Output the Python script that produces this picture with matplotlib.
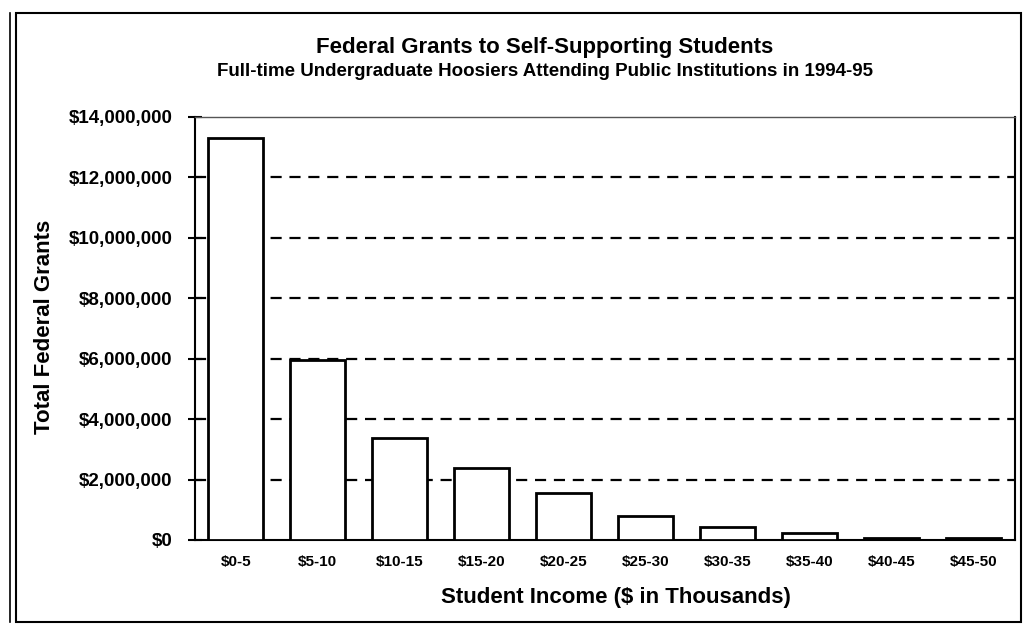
import matplotlib
matplotlib.use("Agg")
import matplotlib.pyplot as plt
from matplotlib.patches import Rectangle
from matplotlib.lines import Line2D
from matplotlib.ticker import FuncFormatter, MultipleLocator

plt.rcParams['font.family'] = ['Liberation Sans', 'DejaVu Sans']

# Income brackets ($ thousands) and total federal grants per bracket
income_brackets = ["$0-5", "$5-10", "$10-15", "$15-20", "$20-25",
                   "$25-30", "$30-35", "$35-40", "$40-45", "$45-50"]
total_grants = [13300000, 5970000, 3380000, 2370000, 1560000,
                790000, 420000, 240000, 60000, 50000]

title = "Federal Grants to Self-Supporting Students"
subtitle = "Full-time Undergraduate Hoosiers Attending Public Institutions in 1994-95"
x_label = "Student Income ($ in Thousands)"
y_label = "Total Federal Grants"

W, H = 1025, 625
fig = plt.figure(figsize=(W / 100, H / 100), dpi=100)
ax = fig.add_axes([0.190, 0.136, 0.800, 0.677])

x = range(len(income_brackets))
ax.bar(x, total_grants, width=0.67, color="white", edgecolor="black",
       linewidth=2.0, zorder=3)

ax.set_xlim(-0.5, len(income_brackets) - 0.5)
ax.set_ylim(0, 14000000)
ax.yaxis.set_major_locator(MultipleLocator(2000000))
ax.yaxis.set_major_formatter(FuncFormatter(lambda v, p: "${:,.0f}".format(v)))

# dashed horizontal gridlines between the floor and the ceiling
for level in range(2000000, 14000000, 2000000):
    ax.axhline(level, color="black", linestyle=(0, (5, 3.5)), linewidth=1.6, zorder=1)

ax.set_xticks(list(x))
ax.set_xticklabels(income_brackets, fontsize=11, fontweight="bold")
ax.tick_params(axis="x", length=0, pad=11)
ax.tick_params(axis="y", direction="inout", length=10, width=1.5,
               labelsize=13.5, pad=11)
for lbl in ax.get_yticklabels():
    lbl.set_fontweight("bold")

for side in ("left", "bottom", "right"):
    ax.spines[side].set_color("black")
    ax.spines[side].set_linewidth(1.5)
ax.spines["top"].set_color("#555555")
ax.spines["top"].set_linewidth(1.0)

fig.text(616 / W, 1 - 598 / H, x_label, ha="center", va="center",
         fontsize=16, fontweight="bold")
fig.text(45 / W, 1 - 327 / H, y_label, ha="center", va="center",
         rotation=90, fontsize=16, fontweight="bold")

fig.text(545 / W, 1 - 47 / H, title, ha="center", va="center",
         fontsize=16, fontweight="bold")
fig.text(545 / W, 1 - 72 / H, subtitle, ha="center", va="center",
         fontsize=13.5, fontweight="bold")

# outer frame around the whole chart, doubled on the left edge
fig.patches.append(Rectangle((16 / W, 3 / H), (1021 - 16) / W, (612 - 3) / H,
                             transform=fig.transFigure, fill=False,
                             edgecolor="black", linewidth=1.5))
fig.lines.append(Line2D([10 / W, 10 / W], [3 / H, 612 / H], transform=fig.transFigure,
                        color="black", linewidth=1.2))

fig.savefig("out.png", dpi=100, facecolor="white")
